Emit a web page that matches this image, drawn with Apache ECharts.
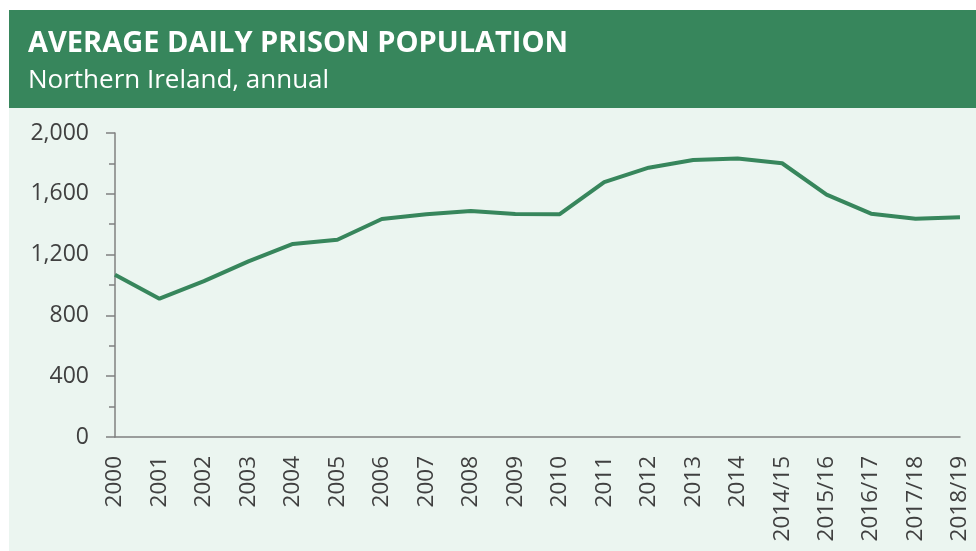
<!DOCTYPE html>
<html><head><meta charset="utf-8">
<script src="https://cdn.jsdelivr.net/npm/echarts@6/dist/echarts.min.js"></script>
<style>html,body{margin:0;padding:0;background:#fff}#c{width:976px;height:551px}</style>
</head><body><div id="c"></div>
<script>
const titleText = 'AVERAGE DAILY PRISON POPULATION';
const subtitleText = 'Northern Ireland, annual';
const categories = ['2000','2001','2002','2003','2004','2005','2006','2007','2008','2009','2010','2011','2012','2013','2014','2014/15','2015/16','2016/17','2017/18','2018/19'];
const population = [1068,910,1026,1155,1270,1298,1434,1465,1487,1467,1466,1677,1772,1822,1832,1801,1594,1469,1436,1445];
const yTicks = {min:0, max:2000, interval:400};

const green = '#37865C';
const chart = echarts.init(document.getElementById('c'), null, {renderer:'canvas'});
chart.setOption({
  animation:false,
  backgroundColor:'#ffffff',
  graphic:[
    {type:'rect', left:9, top:108, shape:{width:967, height:443}, style:{fill:'#EBF5F0'}, z:-10},
    {type:'rect', left:9, top:10, shape:{width:967, height:98}, style:{fill:green}, z:-10}
  ],
  title:{
    text:titleText, subtext:subtitleText, left:23, top:24, itemGap:10,
    textStyle:{fontFamily:'Open Sans', fontWeight:'bold', fontSize:29, color:'#ffffff'},
    subtextStyle:{fontFamily:'Open Sans', fontSize:26, color:'#ffffff'}
  },
  grid:{left:115, right:16, top:133, bottom:114, containLabel:false},
  xAxis:{
    type:'category', data:categories, boundaryGap:false,
    axisLine:{lineStyle:{color:'#808080', width:1.5}},
    axisTick:{show:false},
    axisLabel:{rotate:90, margin:19, interval:0, fontFamily:'Open Sans', fontSize:22.5, color:'#404040'}
  },
  yAxis:{
    type:'value', min:yTicks.min, max:yTicks.max, interval:yTicks.interval,
    axisLine:{show:true, lineStyle:{color:'#808080', width:1.5}},
    axisTick:{show:true, length:9, lineStyle:{color:'#808080', width:1.5}},
    minorTick:{show:true, splitNumber:2, length:6, lineStyle:{color:'#808080', width:1.5}},
    splitLine:{show:false},
    axisLabel:{margin:26, fontFamily:'Open Sans', fontSize:23, color:'#404040',
      formatter:v=>v.toLocaleString('en-US')}
  },
  series:[{type:'line', data:population, symbol:'none', lineStyle:{color:green, width:4}}]
});
</script></body></html>
